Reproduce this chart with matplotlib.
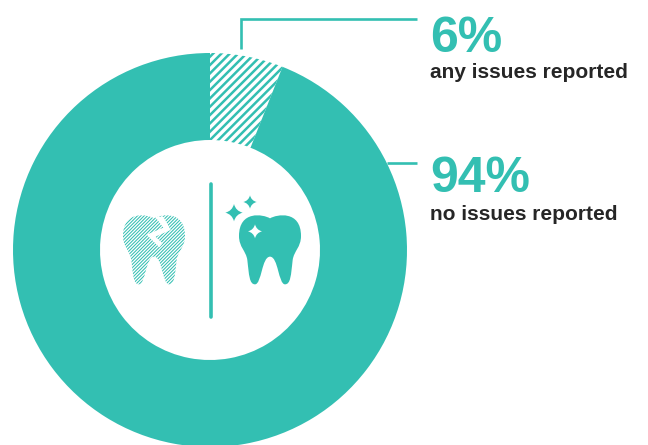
import matplotlib
matplotlib.use("Agg")
import matplotlib.pyplot as plt
from matplotlib.path import Path
from matplotlib.patches import PathPatch

shares = [6, 94]
big_labels = ["6%", "94%"]
sub_labels = ["any issues reported", "no issues reported"]
TEAL = "#33BFB2"
DARK = "#262626"
H = 445

plt.rcParams["font.family"] = ["Liberation Sans", "DejaVu Sans"]
plt.rcParams["hatch.linewidth"] = 1.8

fig = plt.figure(figsize=(6.48, 4.45), dpi=100)
ax = fig.add_axes([0, 0, 1, 1])

ax.pie(shares, colors=["white", TEAL], hatch=["////", ""], startangle=90, counterclock=False,
       center=(210, H - 250), radius=197,
       wedgeprops=dict(width=87, edgecolor=TEAL, linewidth=0))
ax.set_xlim(0, 648)
ax.set_ylim(0, H)
ax.set_aspect("auto")
ax.axis("off")

def py(y):
    return H - y

# leader lines
ax.plot([241, 241, 417], [py(49), py(19), py(19)], color=TEAL, lw=1.9, solid_joinstyle="miter", solid_capstyle="butt")
ax.plot([387, 417], [py(163), py(163)], color=TEAL, lw=1.9, solid_capstyle="butt", zorder=0.5)
# divider
ax.plot([210.5, 210.5], [py(184), py(317)], color=TEAL, lw=2.6, solid_capstyle="round")

# text
ax.text(430, py(52), big_labels[0], color=TEAL, fontsize=36, fontweight="bold", ha="left", va="baseline")
ax.text(430, py(192), big_labels[1], color=TEAL, fontsize=36, fontweight="bold", ha="left", va="baseline")
ax.text(430, py(78.5), sub_labels[0], color=DARK, fontsize=15, fontweight="bold", ha="left", va="baseline")
ax.text(430, py(220.5), sub_labels[1], color=DARK, fontsize=15, fontweight="bold", ha="left", va="baseline")

# icons: coordinates measured in the 3x crop whose origin is (100,160)
def z(p):
    return (100 + p[0] / 3, H - (160 + p[1] / 3))

def tooth(dx):
    right = [
        ((530, 163), (603, 150), (603, 228)),
        ((603, 262), (582, 272), (578, 300)),
        ((573, 345), (572, 373), (555, 373)),
        ((535, 373), (535, 290), (510, 290)),
    ]
    verts = [z((510 + dx, 175))]
    codes = [Path.MOVETO]
    for seg in right:
        for p in seg:
            verts.append(z((p[0] + dx, p[1])))
            codes.append(Path.CURVE4)
    # left half mirrors the right half around x=510
    left = [(510, 290), (485, 290), (485, 373), (465, 373),
            (448, 373), (447, 345), (442, 300),
            (438, 272), (417, 262), (417, 228),
            (417, 150), (490, 163), (510, 175)]
    for p in left[1:]:
        verts.append(z((p[0] + dx, p[1])))
        codes.append(Path.CURVE4)
    verts.append(verts[0])
    codes.append(Path.CLOSEPOLY)
    return Path(verts, codes)

def star(cx, cy, r, color):
    k = 0.2 * r
    pts = [(cx, cy - r), (cx + k, cy - k), (cx + r, cy), (cx + k, cy + k),
           (cx, cy + r), (cx - k, cy + k), (cx - r, cy), (cx - k, cy - k), (cx, cy - r)]
    verts = [z(p) for p in pts]
    codes = [Path.MOVETO] + [Path.CURVE3] * 8
    ax.add_patch(PathPatch(Path(verts, codes), facecolor=color, edgecolor="none", zorder=4))

ax.add_patch(PathPatch(tooth(0), facecolor=TEAL, edgecolor="none", zorder=3))
star(402, 158, 26, TEAL)
star(450, 126, 20, TEAL)
star(465, 214, 21, "white")

plt.rcParams["hatch.linewidth"] = 0.75
ax.add_patch(PathPatch(tooth(-348), facecolor="white", edgecolor=TEAL, hatch="/" * 10, linewidth=0, zorder=3))

crack = [(165, 170), (190, 203), (140, 224), (178, 262), (188, 250), (166, 230), (212, 210), (190, 170)]
ax.fill([z(p)[0] for p in crack], [z(p)[1] for p in crack], color="white", lw=0, zorder=4)

fig.savefig("out.png", dpi=100)
